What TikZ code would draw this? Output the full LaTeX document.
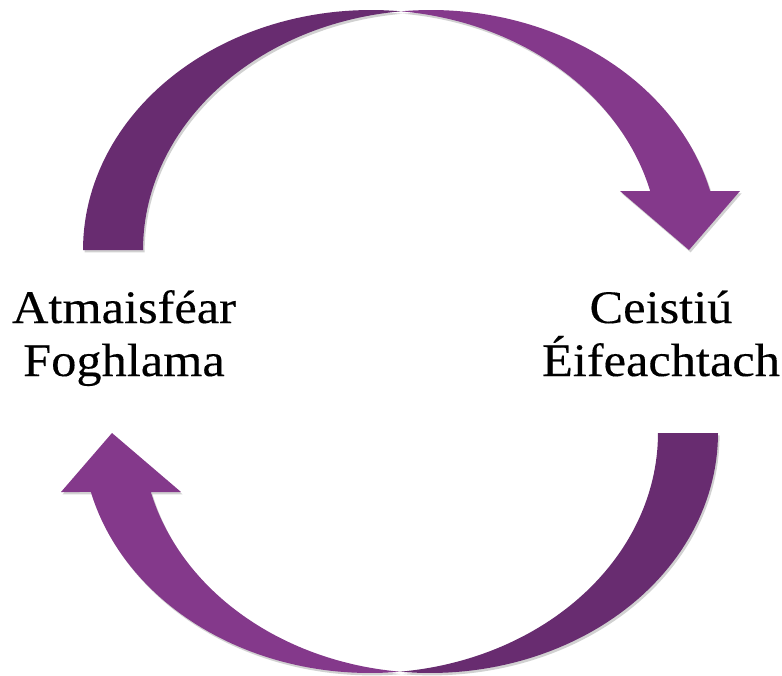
\documentclass[tikz,border=0pt]{standalone}
\usepackage{fontspec}
\setmainfont{Liberation Serif}
\newfontfamily\labelfont[FakeStretch=1.08,FakeBold=0.25]{Liberation Serif}
\usetikzlibrary{shadows}
\definecolor{darkplum}{RGB}{104,44,112}
\definecolor{lightplum}{RGB}{132,57,139}
\begin{document}
\begin{tikzpicture}[x=0.75pt,y=-0.75pt,
  tailpart/.style={fill=darkplum, draw=none},
  headpart/.style={fill=lightplum, draw=none},
  softshadow/.style={drop shadow={opacity=0.18, shadow xshift=1.2pt, shadow yshift=-1.8pt, fill=black}},
  lbl/.style={font=\labelfont\fontsize{35}{39.75}\selectfont, align=center, inner sep=0pt}]
\useasboundingbox (0,0) rectangle (782,675);
\foreach \rot in {0,180}{
\begin{scope}[rotate around={\rot:(400.5,341.5)}]
  % tail half (darker)
  \fill[tailpart, softshadow]
    plot[domain=180:84.02, samples=60, variable=\t] ({371+288*cos(\t)},{250-240*sin(\t)})
    -- plot[domain=95.98:180, samples=60, variable=\t] ({431+288*cos(\t)},{250-240*sin(\t)})
    -- cycle;
  % head half (lighter)
  \fill[headpart, softshadow]
    plot[domain=95.98:14.23, samples=60, variable=\t] ({431+288*cos(\t)},{250-240*sin(\t)})
    -- (740,191) -- (689,250) -- (620,191) -- (650,191)
    -- plot[domain=14.23:84.02, samples=60, variable=\t] ({371+288*cos(\t)},{250-240*sin(\t)})
    -- cycle;
\end{scope}
}
\node[lbl, anchor=base] (climate) at (124,376) {Atmaisféar\\Foghlama};
\node[lbl, anchor=base] (questioning) at (661,376) {Ceistiú\\Éifeachtach};
\end{tikzpicture}
\end{document}
